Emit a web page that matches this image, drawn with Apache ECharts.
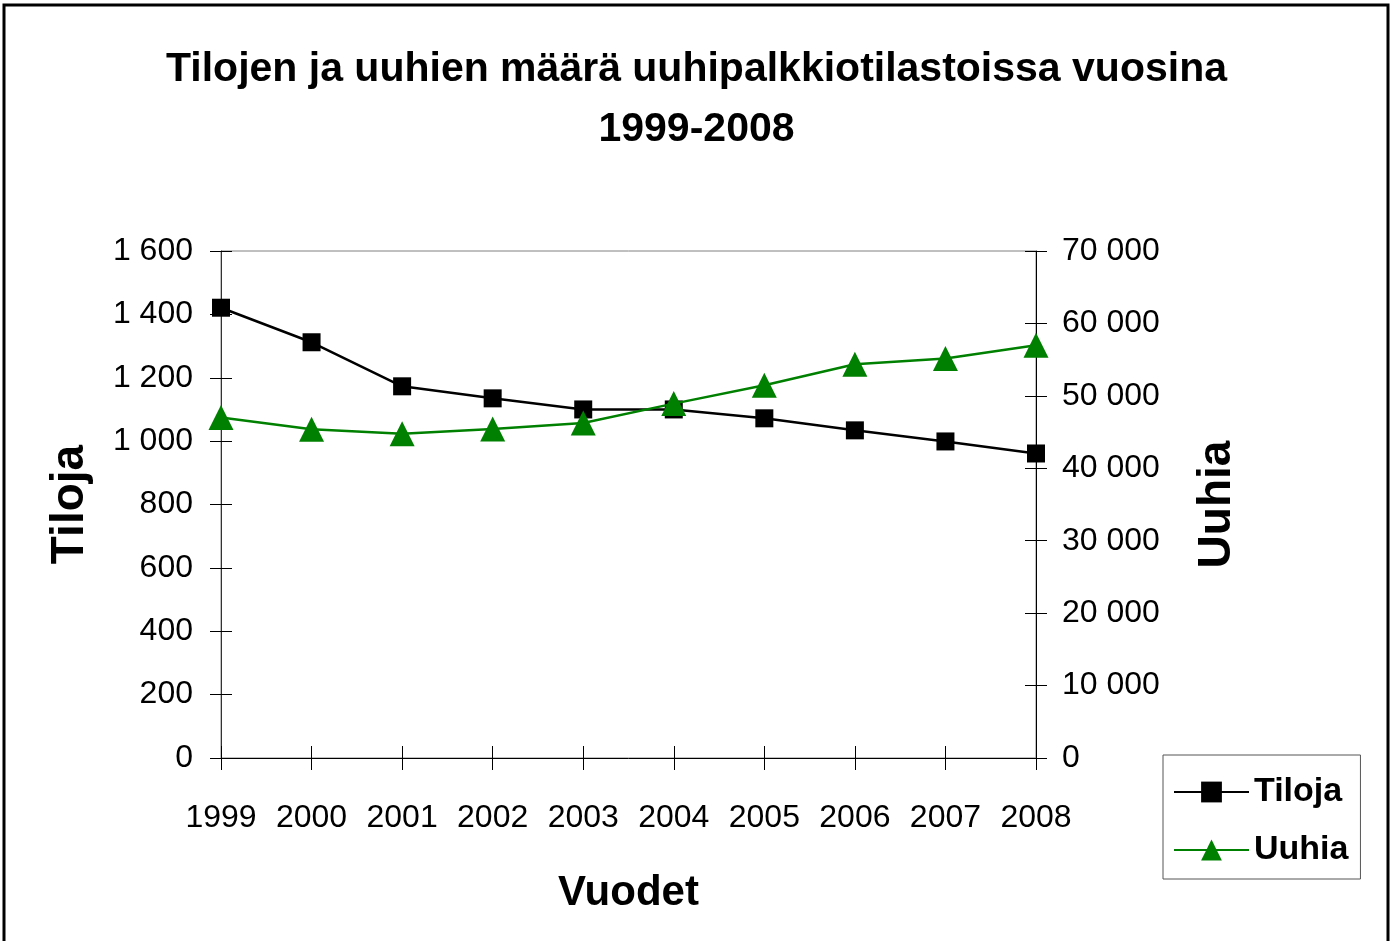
<!DOCTYPE html>
<html>
<head>
<meta charset="utf-8">
<script src="https://cdn.jsdelivr.net/npm/echarts@6/dist/echarts.min.js"></script>
<style>
	html, body { margin: 0; padding: 0; background: #fff; }
	#chart { width: 1393px; height: 941px; }
</style>
</head>
<body>
<div id="chart"></div>
<script>
// vuodet ja sarjat
const years = ["1999", "2000", "2001", "2002", "2003", "2004", "2005", "2006", "2007", "2008"];
const tiloja = [1421, 1312, 1173, 1135, 1100, 1100, 1072, 1034, 999, 961];
const uuhia = [47000, 45380, 44780, 45420, 46250, 48930, 51460, 54370, 55150, 57000];

const font = "'Liberation Sans', Arial, sans-serif";

// 1600 -> "1 600"
function spaced(v) {
	return String(v).replace(/\B(?=(\d{3})+(?!\d))/g, " ");
}

const chart = echarts.init(document.getElementById("chart"));

chart.setOption({
	animation: false,
	backgroundColor: "#fff",
	textStyle: { fontFamily: font },
	title: {
		text: "Tilojen ja uuhien määrä uuhipalkkiotilastoissa vuosina\n1999-2008",
		left: "center",
		top: 35,
		textStyle: {
			fontFamily: font,
			fontSize: 41,
			fontWeight: "bold",
			color: "#000",
			lineHeight: 60,
		},
	},
	graphic: [
		{
			type: "rect",
			shape: { x: 4, y: 5, width: 1384, height: 960 },
			style: { fill: "none", stroke: "#000", lineWidth: 3 },
			silent: true,
		},
	],
	legend: {
		orient: "vertical",
		left: 1163,
		top: 755,
		width: 196,
		itemWidth: 75,
		itemHeight: 26,
		itemGap: 24,
		padding: [20, 12, 12, 10],
		borderColor: "#555",
		borderWidth: 1,
		textStyle: { fontFamily: font, fontSize: 34, fontWeight: "bold", color: "#000" },
		data: ["Tiloja", "Uuhia"],
	},
	grid: {
		left: 221,
		top: 251,
		width: 815,
		height: 507,
		show: true,
		borderColor: "#808080",
		borderWidth: 1,
		backgroundColor: "transparent",
	},
	xAxis: [
		{
			type: "category",
			data: years,
			boundaryGap: false,
			name: "Vuodet",
			nameLocation: "middle",
			nameGap: 114,
			nameTextStyle: { fontFamily: font, fontSize: 42, fontWeight: "bold", color: "#000" },
			axisLine: { lineStyle: { color: "#000", width: 1 } },
			axisTick: { interval: 0, length: 12, lineStyle: { color: "#000" } },
			axisLabel: { interval: 0, margin: 44, fontSize: 32, color: "#000", fontFamily: font },
			splitLine: { show: false },
		},
		{
			// sisäpuoliset tikit
			type: "category",
			data: years,
			boundaryGap: false,
			position: "bottom",
			axisLine: { show: false },
			axisTick: { interval: 0, inside: true, length: 12, lineStyle: { color: "#000" } },
			axisLabel: { show: false },
			splitLine: { show: false },
		},
	],
	yAxis: [
		{
			type: "value",
			min: 0,
			max: 1600,
			interval: 200,
			position: "left",
			name: "Tiloja",
			nameLocation: "middle",
			nameRotate: 90,
			nameGap: 128,
			nameTextStyle: { fontFamily: font, fontSize: 46, fontWeight: "bold", color: "#000" },
			axisLine: { show: true, lineStyle: { color: "#333", width: 1 } },
			axisTick: { show: true, length: 11, lineStyle: { color: "#000" } },
			axisLabel: { margin: 28, fontSize: 32, color: "#000", fontFamily: font, formatter: spaced, padding: [6, 0, 0, 0] },
			splitLine: { show: false },
		},
		{
			type: "value",
			min: 0,
			max: 70000,
			interval: 10000,
			position: "right",
			name: "Uuhia",
			nameLocation: "middle",
			nameRotate: 90,
			nameGap: 158,
			nameTextStyle: { fontFamily: font, fontSize: 46, fontWeight: "bold", color: "#000" },
			axisLine: { show: true, lineStyle: { color: "#000", width: 1 } },
			axisTick: { show: true, length: 11, lineStyle: { color: "#000" } },
			axisLabel: { margin: 26, fontSize: 32, color: "#000", fontFamily: font, formatter: spaced, padding: [6, 0, 0, 0] },
			splitLine: { show: false },
		},
		{
			type: "value",
			min: 0,
			max: 1600,
			interval: 200,
			position: "left",
			axisLine: { show: false },
			axisTick: { show: true, inside: true, length: 11, lineStyle: { color: "#000" } },
			axisLabel: { show: false },
			splitLine: { show: false },
		},
		{
			type: "value",
			min: 0,
			max: 70000,
			interval: 10000,
			position: "right",
			axisLine: { show: false },
			axisTick: { show: true, inside: true, length: 11, lineStyle: { color: "#000" } },
			axisLabel: { show: false },
			splitLine: { show: false },
		},
	],
	series: [
		{
			name: "Tiloja",
			type: "line",
			xAxisIndex: 0,
			yAxisIndex: 0,
			data: tiloja,
			symbol: "rect",
			symbolSize: 18,
			lineStyle: { color: "#000", width: 2.5 },
			itemStyle: { color: "#000" },
			z: 3,
		},
		{
			name: "Uuhia",
			type: "line",
			xAxisIndex: 0,
			yAxisIndex: 1,
			data: uuhia,
			symbol: "triangle",
			symbolSize: [25, 25],
			lineStyle: { color: "#008000", width: 2.5 },
			itemStyle: { color: "#008000" },
			z: 4,
		},
	],
});
</script>
</body>
</html>
